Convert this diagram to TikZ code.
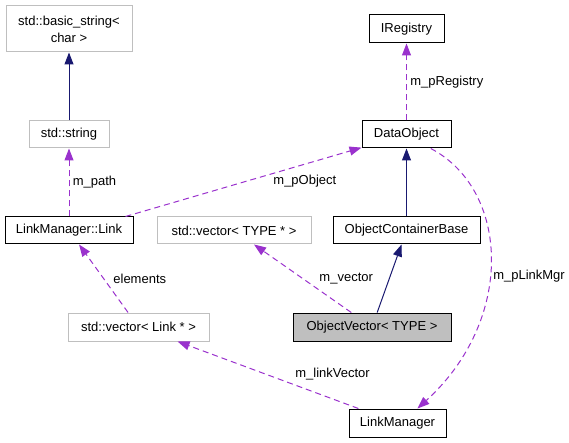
\documentclass[tikz,border=0pt]{standalone}
\usepackage{fontspec}
\setmainfont{Liberation Sans}
\usetikzlibrary{arrows.meta}
\definecolor{edgeblue}{HTML}{191970}
\definecolor{edgepurple}{HTML}{9A32CD}
\definecolor{boxgray}{HTML}{BFBFBF}

\begin{document}
\begin{tikzpicture}[x=1pt, y=-1pt, font=\fontsize{13}{17}\selectfont,
    cls/.style={draw=black, line width=1pt, minimum height=27pt, inner sep=0pt},
    ext/.style={cls, draw=boxgray},
    lbl/.style={text=black},
    inherit/.style={edgeblue, line width=1pt, -{Triangle[length=12pt,width=9pt]}},
    usage/.style={edgepurple, line width=1pt, dash pattern=on 6pt off 4pt, -{Triangle[length=12pt,width=9pt]}}]
    \useasboundingbox (0,0) rectangle (569,443);
    \node[ext, minimum width=126pt, minimum height=46pt, align=center] (basicStr) at (69,29) {std::basic\_string<\\char >};
    \node[ext, minimum width=80pt] (stdStr) at (69,134.5) {std::string};
    \node[cls, minimum width=128pt] (link) at (69,230.5) {LinkManager::Link};
    \node[cls, minimum width=75pt, minimum height=28pt] (iReg) at (406.5,29) {IRegistry};
    \node[cls, minimum width=89pt] (dataObj) at (406.5,134.5) {DataObject};
    \node[ext, minimum width=154pt] (vecType) at (234,230.5) {std::vector< TYPE * >};
    \node[cls, minimum width=147pt] (ocb) at (406.5,230.5) {ObjectContainerBase};
    \node[ext, minimum width=141pt, minimum height=28pt] (vecLink) at (138.5,327) {std::vector< Link * >};
    \node[cls, fill=boxgray, minimum width=158pt, minimum height=28pt] (objVec) at (372,327) {ObjectVector< TYPE >};
    \node[cls, minimum width=97pt, minimum height=28pt] (linkMgr) at (397.5,423) {LinkManager};

    \draw[inherit] (stdStr) -- (basicStr);
    \draw[usage] (link) -- node[lbl, right] {m\_path} (stdStr);
    \draw[usage] ([xshift=-8pt]link.north east) -- node[lbl, pos=.76, below=7pt] {m\_pObject} (dataObj);
    \draw[usage] (dataObj) -- node[lbl, right] {m\_pRegistry} (iReg);
    \draw[inherit] (ocb) -- (dataObj);
    \draw[inherit] (objVec) -- (ocb);
    \draw[usage] (objVec) -- node[lbl, right=13pt] {m\_vector} (vecType);
    \draw[usage] (vecLink) -- node[lbl, right=6pt] {elements} (link);
    \draw[usage] (linkMgr) -- node[lbl, pos=.37, anchor=south west] {m\_linkVector} (vecLink);
    \draw[usage] (dataObj.-30) .. controls (510,190) and (515,320) .. node[lbl, pos=.55, right] {m\_pLinkMgr} (linkMgr.36);
\end{tikzpicture}
\end{document}
